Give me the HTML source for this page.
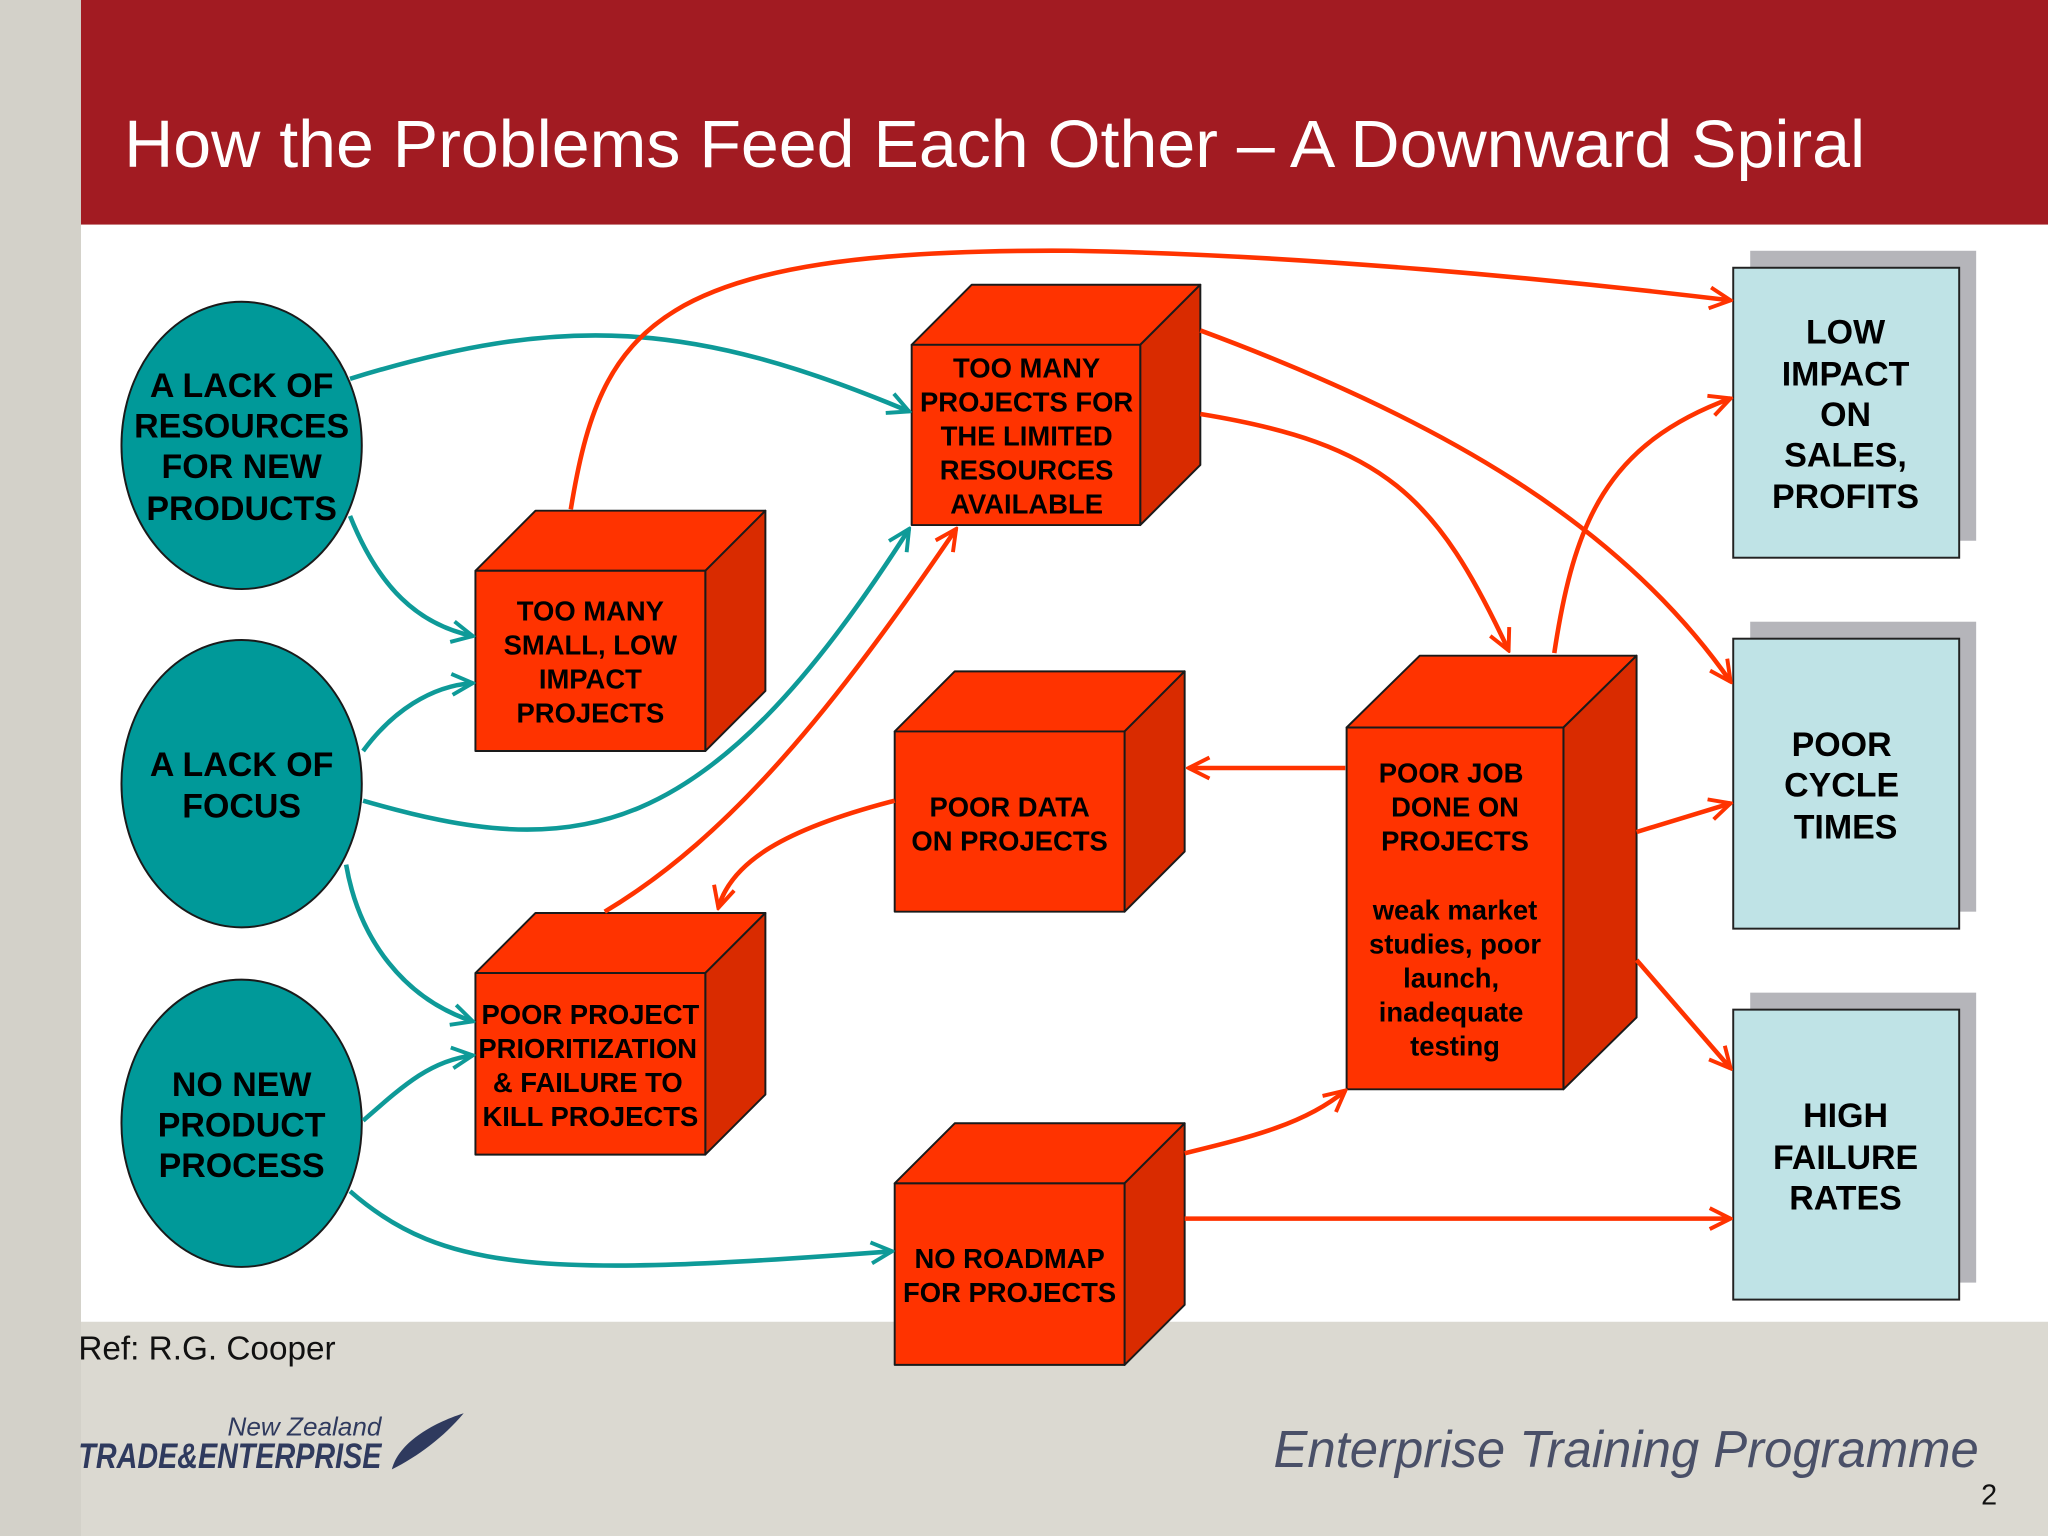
<!DOCTYPE html>
<html><head><meta charset="utf-8"><style>
html,body{margin:0;padding:0;width:2048px;height:1536px;overflow:hidden;background:#d3d1c9}
svg{display:block}
.c{font-family:"Liberation Sans",Arial,sans-serif;font-weight:bold;font-size:21px;fill:#000;text-anchor:middle}
.e{font-family:"Liberation Sans",Arial,sans-serif;font-weight:bold;font-size:26px;fill:#000;text-anchor:middle}
</style></head><body>
<svg width="2048" height="1536" viewBox="0 0 1568 1176" xmlns="http://www.w3.org/2000/svg">
<defs>
<marker id="mt" viewBox="0 0 20 20" refX="18" refY="10" markerWidth="20" markerHeight="20" markerUnits="userSpaceOnUse" orient="auto"><path d="M2,2 L18,10 L2,18" fill="none" stroke="#0e9a98" stroke-width="3"/></marker>
<marker id="mr" viewBox="0 0 20 20" refX="18" refY="10" markerWidth="20" markerHeight="20" markerUnits="userSpaceOnUse" orient="auto"><path d="M2,2 L18,10 L2,18" fill="none" stroke="#ff3300" stroke-width="3"/></marker>
</defs>
<rect x="0" y="0" width="1568" height="1176" fill="#d3d1c9"/>
<rect x="62" y="1012" width="1506" height="164" fill="#dbd9d1"/>
<rect x="62" y="0" width="1506" height="172" fill="#a21b22"/>
<text x="95" y="128" font-family="Liberation Sans,Arial,sans-serif" font-size="51" fill="#fff" textLength="1333" lengthAdjust="spacingAndGlyphs">How the Problems Feed Each Other – A Downward Spiral</text>
<rect x="62" y="172" width="1506" height="840" fill="#fff"/>

<g stroke="#222" stroke-width="1.5">
<rect x="1340" y="192" width="173" height="222" fill="#b5b5ba" stroke="none"/>
<rect x="1327" y="205" width="173" height="222" fill="#bfe3e6"/>
<rect x="1340" y="476" width="173" height="222" fill="#b5b5ba" stroke="none"/>
<rect x="1327" y="489" width="173" height="222" fill="#bfe3e6"/>
<rect x="1340" y="760" width="173" height="222" fill="#b5b5ba" stroke="none"/>
<rect x="1327" y="773" width="173" height="222" fill="#bfe3e6"/>
</g>
<text class="e"><tspan x="1413" y="263">LOW</tspan><tspan x="1413" y="295">IMPACT</tspan><tspan x="1413" y="326">ON</tspan><tspan x="1413" y="357">SALES,</tspan><tspan x="1413" y="389">PROFITS</tspan></text>
<text class="e"><tspan x="1410" y="579">POOR</tspan><tspan x="1410" y="610">CYCLE</tspan><tspan x="1413" y="642">TIMES</tspan></text>
<text class="e"><tspan x="1413" y="863">HIGH</tspan><tspan x="1413" y="895">FAILURE</tspan><tspan x="1413" y="926">RATES</tspan></text>

<g fill="#009999" stroke="#1a1a1a" stroke-width="1.5">
<ellipse cx="185" cy="341" rx="92" ry="110"/>
<ellipse cx="185" cy="600" rx="92" ry="110"/>
<ellipse cx="185" cy="860" rx="92" ry="110"/>
</g>
<text class="e"><tspan x="185" y="304">A LACK OF</tspan><tspan x="185" y="335">RESOURCES</tspan><tspan x="185" y="366">FOR NEW</tspan><tspan x="185" y="398">PRODUCTS</tspan></text>
<text class="e"><tspan x="185" y="594">A LACK OF</tspan><tspan x="185" y="626">FOCUS</tspan></text>
<text class="e"><tspan x="185" y="839">NO NEW</tspan><tspan x="185" y="870">PRODUCT</tspan><tspan x="185" y="901">PROCESS</tspan></text>

<g stroke="#1a1a1a" stroke-width="1.5" stroke-linejoin="round">
<polygon points="364,437 410,391 586,391 540,437" fill="#ff3300"/>
<polygon points="540,437 586,391 586,529 540,575" fill="#d92b00"/>
<rect x="364" y="437" width="176" height="138" fill="#ff3300"/>
<polygon points="698,264 744,218 919,218 873,264" fill="#ff3300"/>
<polygon points="873,264 919,218 919,356 873,402" fill="#d92b00"/>
<rect x="698" y="264" width="175" height="138" fill="#ff3300"/>
<polygon points="685,560 731,514 907,514 861,560" fill="#ff3300"/>
<polygon points="861,560 907,514 907,652 861,698" fill="#d92b00"/>
<rect x="685" y="560" width="176" height="138" fill="#ff3300"/>
<polygon points="364,745 410,699 586,699 540,745" fill="#ff3300"/>
<polygon points="540,745 586,699 586,838 540,884" fill="#d92b00"/>
<rect x="364" y="745" width="176" height="139" fill="#ff3300"/>
<polygon points="1031,557 1087,502 1253,502 1197,557" fill="#ff3300"/>
<polygon points="1197,557 1253,502 1253,779 1197,834" fill="#d92b00"/>
<rect x="1031" y="557" width="166" height="277" fill="#ff3300"/>
<polygon points="685,906 731,860 907,860 861,906" fill="#ff3300"/>
<polygon points="861,906 907,860 907,999 861,1045" fill="#d92b00"/>
<rect x="685" y="906" width="176" height="139" fill="#ff3300"/>
</g>
<text class="c"><tspan x="452" y="475">TOO MANY</tspan><tspan x="452" y="501">SMALL, LOW</tspan><tspan x="452" y="527">IMPACT</tspan><tspan x="452" y="553">PROJECTS</tspan></text>
<text class="c"><tspan x="786" y="289">TOO MANY</tspan><tspan x="786" y="315">PROJECTS FOR</tspan><tspan x="786" y="341">THE LIMITED</tspan><tspan x="786" y="367">RESOURCES</tspan><tspan x="786" y="393">AVAILABLE</tspan></text>
<text class="c"><tspan x="773" y="625">POOR DATA</tspan><tspan x="773" y="651">ON PROJECTS</tspan></text>
<text class="c"><tspan x="452" y="784">POOR PROJECT</tspan><tspan x="450" y="810">PRIORITIZATION</tspan><tspan x="450" y="836">&amp; FAILURE TO</tspan><tspan x="452" y="862">KILL PROJECTS</tspan></text>
<text class="c"><tspan x="1111" y="599">POOR JOB</tspan><tspan x="1114" y="625">DONE ON</tspan><tspan x="1114" y="651">PROJECTS</tspan><tspan x="1114" y="704">weak market</tspan><tspan x="1114" y="730">studies, poor</tspan><tspan x="1111" y="756">launch,</tspan><tspan x="1111" y="782">inadequate</tspan><tspan x="1114" y="808">testing</tspan></text>
<text class="c"><tspan x="773" y="971">NO ROADMAP</tspan><tspan x="773" y="997">FOR PROJECTS</tspan></text>

<g fill="none" stroke="#0e9a98" stroke-width="3.5" marker-end="url(#mt)">
<path d="M268,290 C430,240 530,245 696,315"/>
<path d="M268,395 C290,450 320,478 362,487"/>
<path d="M278,575 C300,545 330,525 362,523"/>
<path d="M278,613 C440,660 540,650 696,405"/>
<path d="M265,662 C275,720 310,765 362,782"/>
<path d="M278,858 C310,830 330,812 362,808"/>
<path d="M268,912 C340,975 420,978 683,958"/>
</g>
<g fill="none" stroke="#ff3300" stroke-width="3.5" marker-end="url(#mr)">
<path d="M437,390 C460,250 500,190 820,192 C1000,195 1200,215 1325,230"/>
<path d="M919,253 C1100,320 1240,400 1325,522"/>
<path d="M919,317 C1060,340 1100,380 1155,498"/>
<path d="M1190,500 C1205,400 1230,340 1325,305"/>
<path d="M1030,588 L910,588"/>
<path d="M685,613 C600,635 560,660 550,695"/>
<path d="M463,698 C560,640 640,540 732,405"/>
<path d="M1253,637 L1325,615"/>
<path d="M1253,735 L1325,818"/>
<path d="M907,883 C960,870 1000,860 1030,835"/>
<path d="M907,933 L1325,933"/>
</g>

<text x="60" y="1041" font-family="Liberation Sans,Arial,sans-serif" font-size="25.5" fill="#111">Ref: R.G. Cooper</text>
<text x="292" y="1099" font-family="Liberation Sans,Arial,sans-serif" font-style="italic" font-size="20" fill="#2f3a5e" text-anchor="end">New Zealand</text>
<text x="60" y="1124" font-family="Liberation Sans,Arial,sans-serif" font-style="italic" font-weight="bold" font-size="27" fill="#2f3a5e" textLength="232" lengthAdjust="spacingAndGlyphs">TRADE&amp;ENTERPRISE</text>
<path d="M300,1125 C305,1105 330,1090 355,1082 C340,1100 320,1115 300,1125 Z" fill="#2f3a5e"/>
<text x="1515" y="1123" font-family="Liberation Sans,Arial,sans-serif" font-style="italic" font-size="40" fill="#4a5068" text-anchor="end" textLength="540" lengthAdjust="spacingAndGlyphs">Enterprise Training Programme</text>
<text x="1529" y="1152" font-family="Liberation Sans,Arial,sans-serif" font-size="22" fill="#111" text-anchor="end">2</text>
</svg>
</body></html>
